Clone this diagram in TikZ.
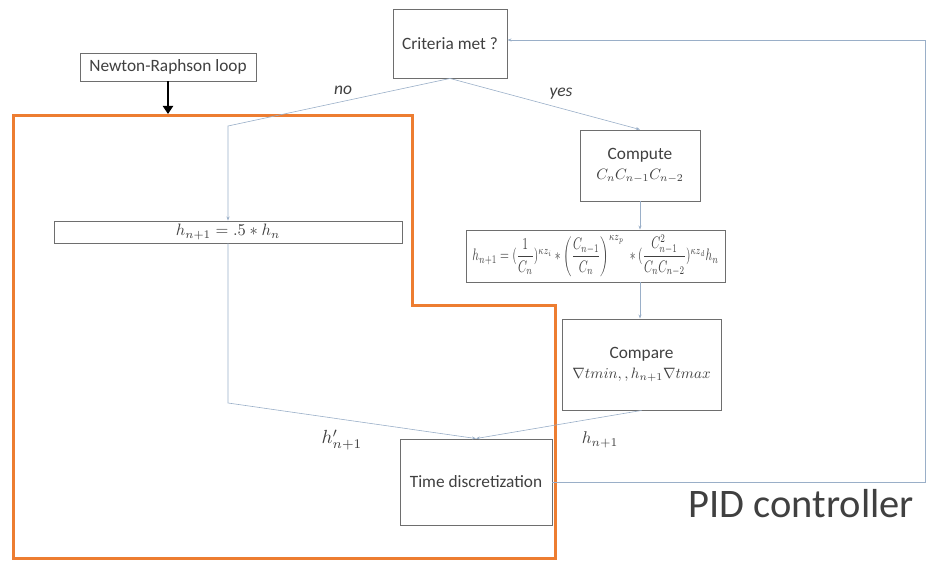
\documentclass[tikz,border=0pt]{standalone}
\usepackage{amsmath}
\usepackage{graphicx}
\usepackage{fontspec}
\setmainfont{Carlito}
\usetikzlibrary{arrows.meta}
\definecolor{txt}{HTML}{404040}
\definecolor{boxline}{HTML}{6E6E6E}
\definecolor{conncol}{HTML}{9AAFC8}
\definecolor{orng}{HTML}{ED7D31}
\newcommand\mth[2]{\scalebox{#1}{\normalsize$#2$}}
\tikzset{
  box/.style={draw=boxline, line width=0.9pt, fill=white, inner sep=0pt, align=center,
    text=txt, font=\fontsize{17.3}{20}\selectfont},
  conn/.style={draw=conncol, line width=0.6pt, -{Stealth[length=4pt,width=3pt]}},
  lbl/.style={text=txt, font=\fontsize{17.5}{20}\selectfont},
}
\begin{document}
\begin{tikzpicture}[x=1pt,y=-1pt]
\useasboundingbox (0,0) rectangle (926,561);
% orange outline
\draw[orng, line width=3pt, line join=miter] (13,116) -- (412,116) -- (412,305) -- (555,305) -- (555,558) -- (13,558) -- cycle;
% nodes
\node[box, minimum width=114pt, minimum height=69pt] (crit) at (450,43.5) {Criteria met ?};
\node[box, minimum width=176pt, minimum height=28pt] (nr) at (168,67) {Newton-Raphson loop};
\node[box, minimum width=348pt, minimum height=22pt] (hbox) at (228,232) {\mth{1.65}{h_{n+1} = .5 * h_n}};
\node[box, minimum width=120pt, minimum height=71pt] (comp) at (640,165.5) {Compute\\[0pt] \mth{1.5}{C_nC_{n-1}C_{n-2}}};
\node[box, minimum width=259pt, minimum height=52pt] (form) at (595.5,256)
  {\scalebox{1}[1.45]{\resizebox{246pt}{!}{\normalsize$h_{n+1} = (\dfrac{1}{C_n})^{\kappa z_i} * \left(\dfrac{C_{n-1}}{C_n}\right)^{\kappa z_p}\; * (\dfrac{C_{n-1}^2}{C_nC_{n-2}})^{\kappa z_d} h_n$}}};
\node[box, minimum width=159pt, minimum height=91pt] (cmp) at (641.5,364.5) {Compare\\[0pt] \mth{1.5}{\nabla tmin,, h_{n+1}\nabla tmax}};
\node[box, minimum width=152pt, minimum height=86pt] (td) at (476,482) {Time discretization};
% coordinates
\coordinate (nobend) at (228,126);
\coordinate (hbend) at (228,403);
\coordinate (fb1) at (925,482);
\coordinate (fb2) at (925,40);
\coordinate (nrtip) at (168,114);
% connectors
\draw[conn] (crit.south) -- (nobend) -- (hbox.north);
\draw[conn] (crit.south) -- (comp.north);
\draw[conn] (comp.south) -- (comp.south |- form.north);
\draw[conn] (comp.south |- form.south) -- (comp.south |- cmp.north);
\draw[conn] (hbox.south) -- (hbend) -- (td.north);
\draw[conn] (cmp.south) -- (td.north);
\draw[conn] (td.east) -- (fb1) -- (fb2) -- (crit.east |- fb2);
\draw[line width=2.6pt, -{Triangle[length=8pt,width=10pt]}] (nr.south) -- (nrtip);
% labels
\node[lbl, font=\fontsize{17.5}{20}\selectfont\itshape] (lno) at (343,90) {no};
\node[lbl, font=\fontsize{17.5}{20}\selectfont\itshape] (lyes) at (561,94) {yes};
\node[lbl] (lhp) at (342,440) {\mth{1.9}{h'_{n+1}}};
\node[lbl] (lh) at (600,440) {\mth{1.7}{h_{n+1}}};
\node[text=txt, font=\fontsize{40.5}{44}\selectfont, anchor=base west] (pid) at (685,517) {PID controller};
\end{tikzpicture}
\end{document}
